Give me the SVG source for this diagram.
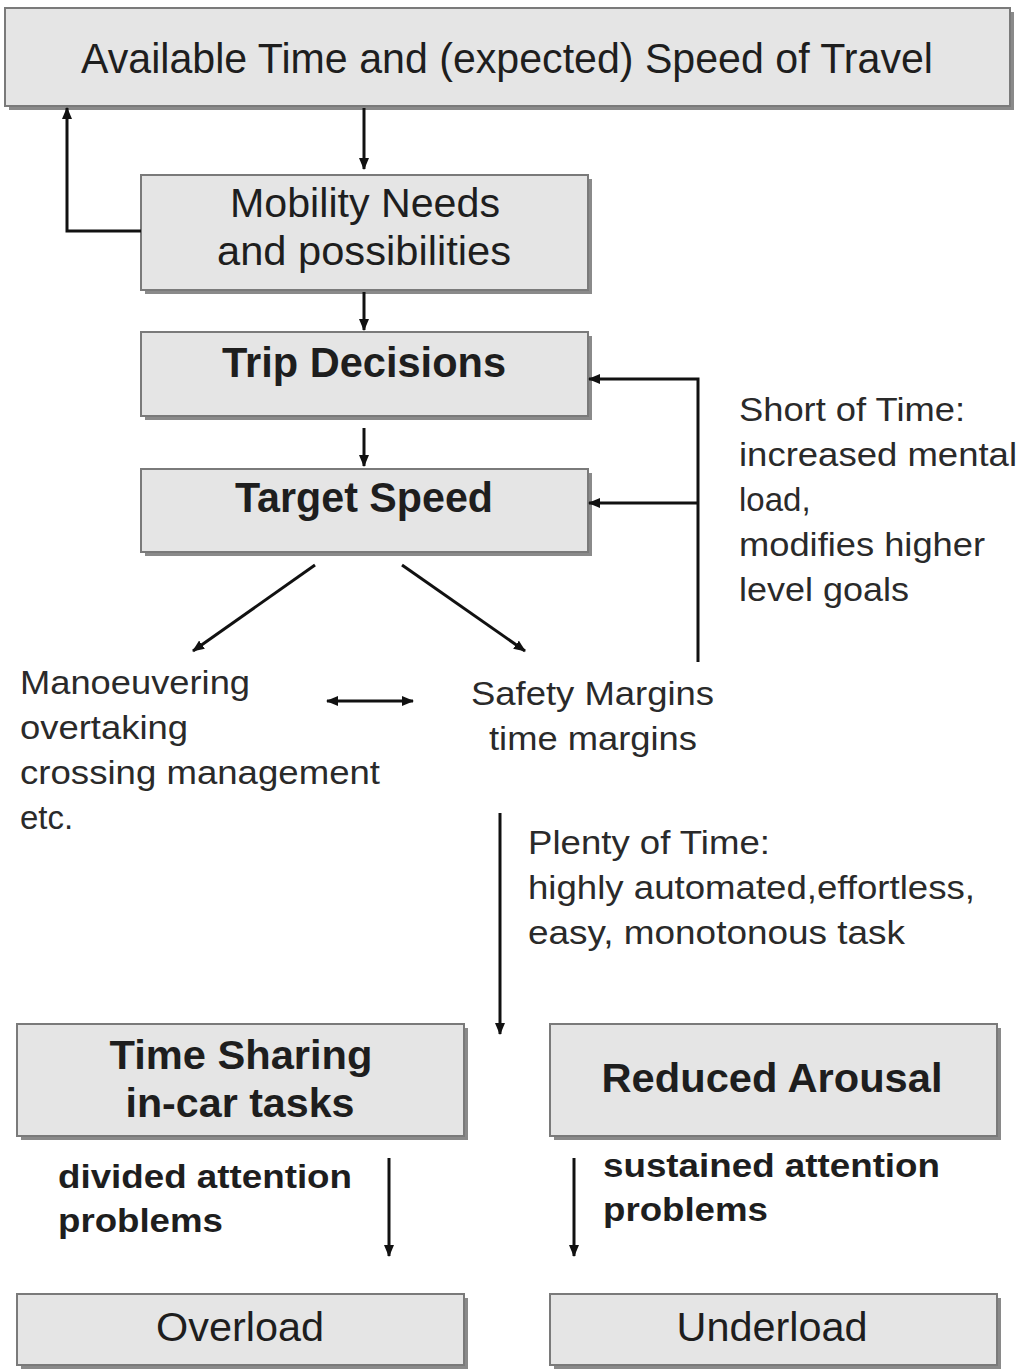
<svg xmlns="http://www.w3.org/2000/svg" width="1019" height="1372" viewBox="0 0 1019 1372">
  <style>
    .box { fill: #e5e5e5; stroke: #7a7a7a; stroke-width: 2; }
    .shadow { fill: #8a8a8a; }
    .t { font-family: "Liberation Sans", Arial, sans-serif; fill: #1e1e1e; }
    .reg { font-weight: normal; }
    .bold { font-weight: bold; }
    .lbl { font-family: "Liberation Sans", Arial, sans-serif; fill: #2a2a2a; font-size: 33px; }
    .lblb { font-family: "Liberation Sans", Arial, sans-serif; fill: #1e1e1e; font-size: 34px; font-weight: bold; }
    .c { fill: none; stroke: #111; stroke-width: 3; }
  </style>
  <defs>
    <marker id="ah" markerWidth="12" markerHeight="10" refX="11" refY="5" orient="auto" markerUnits="userSpaceOnUse">
      <path d="M0,0 L12,5 L0,10 Z" fill="#111"/>
    </marker>
    <marker id="ahs" markerWidth="12" markerHeight="10" refX="1" refY="5" orient="auto" markerUnits="userSpaceOnUse">
      <path d="M12,0 L0,5 L12,10 Z" fill="#111"/>
    </marker>
  </defs>
  <rect width="1019" height="1372" fill="#ffffff"/>

  <!-- top box -->
  <g id="available-time">
    <rect class="shadow" x="9" y="12" width="1005" height="98"/>
    <rect class="box" x="5" y="8" width="1005" height="98"/>
    <text class="t reg" x="507" y="73" font-size="43" text-anchor="middle" textLength="852" lengthAdjust="spacingAndGlyphs">Available Time and (expected) Speed of Travel</text>
  </g>

  <g id="mobility-needs">
    <rect class="shadow" x="145" y="179" width="447" height="115"/>
    <rect class="box" x="141" y="175" width="447" height="115"/>
    <text class="t reg" x="365" y="217" font-size="41" text-anchor="middle" textLength="270" lengthAdjust="spacingAndGlyphs">Mobility Needs</text>
    <text class="t reg" x="364" y="265" font-size="41" text-anchor="middle" textLength="294" lengthAdjust="spacingAndGlyphs">and possibilities</text>
  </g>

  <g id="trip-decisions">
    <rect class="shadow" x="145" y="336" width="447" height="84"/>
    <rect class="box" x="141" y="332" width="447" height="84"/>
    <text class="t bold" x="364" y="377" font-size="42" text-anchor="middle" textLength="284" lengthAdjust="spacingAndGlyphs">Trip Decisions</text>
  </g>

  <g id="target-speed">
    <rect class="shadow" x="145" y="473" width="447" height="83"/>
    <rect class="box" x="141" y="469" width="447" height="83"/>
    <text class="t bold" x="364" y="512" font-size="42" text-anchor="middle" textLength="258" lengthAdjust="spacingAndGlyphs">Target Speed</text>
  </g>

  <g id="short-of-time">
    <text class="lbl" x="739" y="421" textLength="226" lengthAdjust="spacingAndGlyphs">Short of Time:</text>
    <text class="lbl" x="739" y="466" textLength="278" lengthAdjust="spacingAndGlyphs">increased mental</text>
    <text class="lbl" x="739" y="511">load,</text>
    <text class="lbl" x="739" y="556" textLength="246" lengthAdjust="spacingAndGlyphs">modifies higher</text>
    <text class="lbl" x="739" y="601" textLength="170" lengthAdjust="spacingAndGlyphs">level goals</text>
  </g>

  <g id="manoeuvering">
    <text class="lbl" x="20" y="694" textLength="230" lengthAdjust="spacingAndGlyphs">Manoeuvering</text>
    <text class="lbl" x="20" y="739" textLength="168" lengthAdjust="spacingAndGlyphs">overtaking</text>
    <text class="lbl" x="20" y="784" textLength="360" lengthAdjust="spacingAndGlyphs">crossing management</text>
    <text class="lbl" x="20" y="829">etc.</text>
  </g>

  <g id="safety-margins">
    <text class="lbl" x="471" y="705" textLength="243" lengthAdjust="spacingAndGlyphs">Safety Margins</text>
    <text class="lbl" x="489" y="750" textLength="208" lengthAdjust="spacingAndGlyphs">time margins</text>
  </g>

  <g id="plenty-of-time">
    <text class="lbl" x="528" y="854" textLength="242" lengthAdjust="spacingAndGlyphs">Plenty of Time:</text>
    <text class="lbl" x="528" y="899" textLength="447" lengthAdjust="spacingAndGlyphs">highly automated,effortless,</text>
    <text class="lbl" x="528" y="944" textLength="377" lengthAdjust="spacingAndGlyphs">easy, monotonous task</text>
  </g>

  <g id="time-sharing">
    <rect class="shadow" x="21" y="1028" width="447" height="112"/>
    <rect class="box" x="17" y="1024" width="447" height="112"/>
    <text class="t bold" x="241" y="1069" font-size="41" text-anchor="middle" textLength="263" lengthAdjust="spacingAndGlyphs">Time Sharing</text>
    <text class="t bold" x="240" y="1117" font-size="41" text-anchor="middle" textLength="229" lengthAdjust="spacingAndGlyphs">in-car tasks</text>
  </g>

  <g id="reduced-arousal">
    <rect class="shadow" x="554" y="1028" width="447" height="112"/>
    <rect class="box" x="550" y="1024" width="447" height="112"/>
    <text class="t bold" x="772" y="1092" font-size="41" text-anchor="middle" textLength="341" lengthAdjust="spacingAndGlyphs">Reduced Arousal</text>
  </g>

  <g id="divided-attention">
    <text class="lblb" x="58" y="1188" textLength="294" lengthAdjust="spacingAndGlyphs">divided attention</text>
    <text class="lblb" x="58" y="1232" textLength="165" lengthAdjust="spacingAndGlyphs">problems</text>
  </g>

  <g id="sustained-attention">
    <text class="lblb" x="603" y="1177" textLength="337" lengthAdjust="spacingAndGlyphs">sustained attention</text>
    <text class="lblb" x="603" y="1221" textLength="165" lengthAdjust="spacingAndGlyphs">problems</text>
  </g>

  <g id="overload">
    <rect class="shadow" x="21" y="1298" width="447" height="71"/>
    <rect class="box" x="17" y="1294" width="447" height="71"/>
    <text class="t reg" x="240" y="1341" font-size="41" text-anchor="middle" textLength="168" lengthAdjust="spacingAndGlyphs">Overload</text>
  </g>

  <g id="underload">
    <rect class="shadow" x="554" y="1298" width="447" height="71"/>
    <rect class="box" x="550" y="1294" width="447" height="71"/>
    <text class="t reg" x="772" y="1341" font-size="41" text-anchor="middle" textLength="191" lengthAdjust="spacingAndGlyphs">Underload</text>
  </g>

  <!-- connectors -->
  <g id="connectors">
    <line class="c" x1="364" y1="108" x2="364" y2="169" marker-end="url(#ah)"/>
    <polyline class="c" points="141,231 67,231 67,108" marker-end="url(#ah)"/>
    <line class="c" x1="364" y1="292" x2="364" y2="330" marker-end="url(#ah)"/>
    <line class="c" x1="364" y1="428" x2="364" y2="466" marker-end="url(#ah)"/>
    <polyline class="c" points="698,662 698,379 589,379" marker-end="url(#ah)"/>
    <line class="c" x1="698" y1="503" x2="589" y2="503" marker-end="url(#ah)"/>
    <line class="c" x1="315" y1="565" x2="193" y2="651" marker-end="url(#ah)"/>
    <line class="c" x1="402" y1="565" x2="525" y2="651" marker-end="url(#ah)"/>
    <line class="c" x1="327" y1="701" x2="413" y2="701" marker-start="url(#ahs)" marker-end="url(#ah)"/>
    <line class="c" x1="500" y1="813" x2="500" y2="1034" marker-end="url(#ah)"/>
    <line class="c" x1="389" y1="1158" x2="389" y2="1256" marker-end="url(#ah)"/>
    <line class="c" x1="574" y1="1158" x2="574" y2="1256" marker-end="url(#ah)"/>
  </g>
</svg>
